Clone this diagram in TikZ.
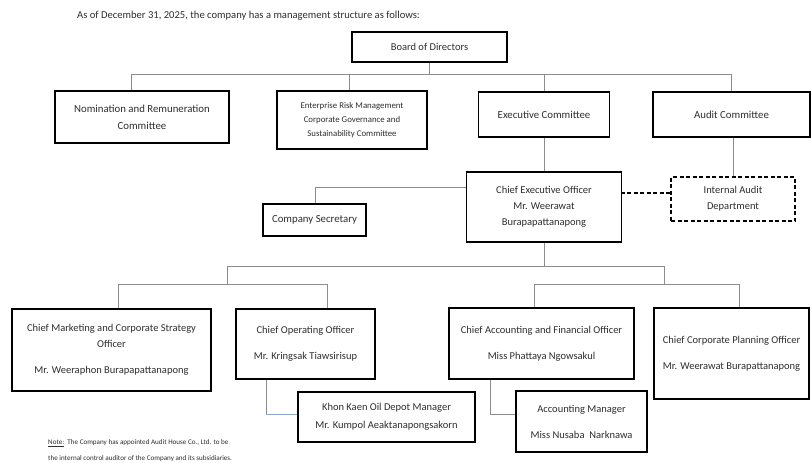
\documentclass[tikz,border=0pt]{standalone}
\usepackage{fontspec}
\setmainfont{Carlito}
\usetikzlibrary{calc}
\definecolor{txt}{HTML}{2E2E2E}
\definecolor{conn}{HTML}{8C8C8C}
\definecolor{connblue}{HTML}{8FA8D0}
\tikzset{
  box/.style={draw=black, line width=1.3pt, align=center, inner sep=0pt, text=txt},
  heavybox/.style={box, line width=1.7pt},
  dashbox/.style={box, dashed, dash pattern=on 4pt off 2.5pt, line width=1.7pt},
  link/.style={draw=conn, line width=0.8pt},
  fA/.style={font=\fontsize{10.5}{16}\selectfont},
  fB/.style={font=\fontsize{10.8}{17}\selectfont},
  fC/.style={font=\fontsize{8.8}{14}\selectfont},
}
\begin{document}
\begin{tikzpicture}[x=1pt,y=-1pt]
\useasboundingbox[fill=white] (0,0) rectangle (811,463);
% title
\node[anchor=west, text=txt, font=\fontsize{10.6}{12}\selectfont, inner sep=0pt] (title) at (77,16)
  {As of December 31, 2025, the company has a management structure as follows:};
% level 1
\node[heavybox, fA, minimum width=155, minimum height=30] (board) at (429.5,47) {Board of Directors};
\node[heavybox, fB, minimum width=174, minimum height=52] (nom) at (142,117) {Nomination and Remuneration\\Committee};
\node[heavybox, fC, minimum width=150, minimum height=58] (erm) at (352,120) {Enterprise Risk Management\\Corporate Governance and\\Sustainability Committee};
\node[box, fB, minimum width=131, minimum height=45] (exec) at (544,114.5) {Executive Committee};
\node[box, fB, minimum width=157, minimum height=45] (audit) at (731.5,114.5) {Audit Committee};
% level 2
\node[box, fA, minimum width=155, minimum height=70] (ceo) at (544,207) {Chief Executive Officer\\Mr. Weerawat\\Burapapattanapong};
\node[dashbox, fA, minimum width=124, minimum height=44] (ia) at (733,199) {Internal Audit\\Department};
\node[heavybox, fB, minimum width=103, minimum height=32] (cs) at (314.5,220) {Company Secretary};
% level 3
\node[box, fA, minimum width=199, minimum height=82] (cmo) at (111.5,350)
  {Chief Marketing and Corporate Strategy\\Officer\\[10pt]Mr. Weeraphon Burapapattanapong};
\node[box, fA, minimum width=139, minimum height=70] (coo) at (305.5,344)
  {Chief Operating Officer\\[10pt]Mr. Kringsak Tiawsirisup};
\node[box, fA, minimum width=185, minimum height=71] (cafo) at (541.5,343.5)
  {Chief Accounting and Financial Officer\\[10pt]Miss Phattaya Ngowsakul};
\node[box, fA, minimum width=155, minimum height=91] (ccpo) at (731.5,353.5)
  {Chief Corporate Planning Officer\\[10pt]Mr. Weerawat Burapattanapong};
\node[box, fA, minimum width=177, minimum height=50] (kk) at (386.5,417)
  {Khon Kaen Oil Depot Manager\\[2pt]Mr. Kumpol Aeaktanapongsakorn};
\node[box, fA, minimum width=131, minimum height=61] (am) at (581.5,421.5)
  {Accounting Manager\\[10pt]Miss Nusaba\ \ Narknawa};
% note
\node[anchor=west, text=txt, font=\fontsize{7.1}{8}\selectfont, inner sep=0pt] (note1) at (48,443)
  {\underline{Note:}\ \ The Company has appointed Audit House Co., Ltd. to be};
\node[anchor=west, text=txt, font=\fontsize{7.1}{8}\selectfont, inner sep=0pt] (note2) at (48,459)
  {the internal control auditor of the Company and its subsidiaries.};
% bus coordinates
\coordinate (b1) at (131,74);
\coordinate (b2) at (349,74);
\coordinate (b4) at (731,74);
\coordinate (c1) at (315,187);
\coordinate (d1) at (227,266);
\coordinate (d2) at (664,266);
\coordinate (e1) at (118,284);
\coordinate (e2) at (327,284);
\coordinate (e3) at (534,284);
\coordinate (e4) at (739,284);
\coordinate (k1) at (266,414);
\coordinate (k2) at (490,414);
% connectors level 1
\draw[link] (board.south) -- (board.south |- b1);
\draw[link] (b1) -- (b4);
\draw[link] (b1) -- (b1 |- nom.north);
\draw[link] (b2) -- (b2 |- erm.north);
\draw[link] (exec.north |- b1) -- (exec.north);
\draw[link] (b4) -- (b4 |- audit.north);
% level 2
\draw[link] (exec.south) -- (ceo.north);
\draw[link] (audit.south -| ia.north) -- (ia.north);
\draw[black, line width=1.7pt, dash pattern=on 4pt off 2.5pt] (ia.west |- 0,193) -- (ceo.east |- 0,193);
\draw[link] (ceo.west |- c1) -- (c1) -- (c1 |- cs.north);
% level 3
\draw[link] (ceo.south) -- (ceo.south |- d1);
\draw[link] (d1) -- (d2);
\draw[link] (d1) -- (d1 |- e1);
\draw[link] (d2) -- (d2 |- e4);
\draw[link] (e1) -- (e2);
\draw[link] (e3) -- (e4);
\draw[link] (e1) -- (e1 |- cmo.north);
\draw[link] (e2) -- (e2 |- coo.north);
\draw[link] (e3) -- (e3 |- cafo.north);
\draw[link] (e4) -- (e4 |- ccpo.north);
\draw[link] (k1 |- coo.south) -- (k1);
\draw[draw=connblue, line width=0.8pt] (k1) -- (k1 -| kk.west);
\draw[link] (k2 |- cafo.south) -- (k2) -- (k2 -| am.west);
\end{tikzpicture}
\end{document}
